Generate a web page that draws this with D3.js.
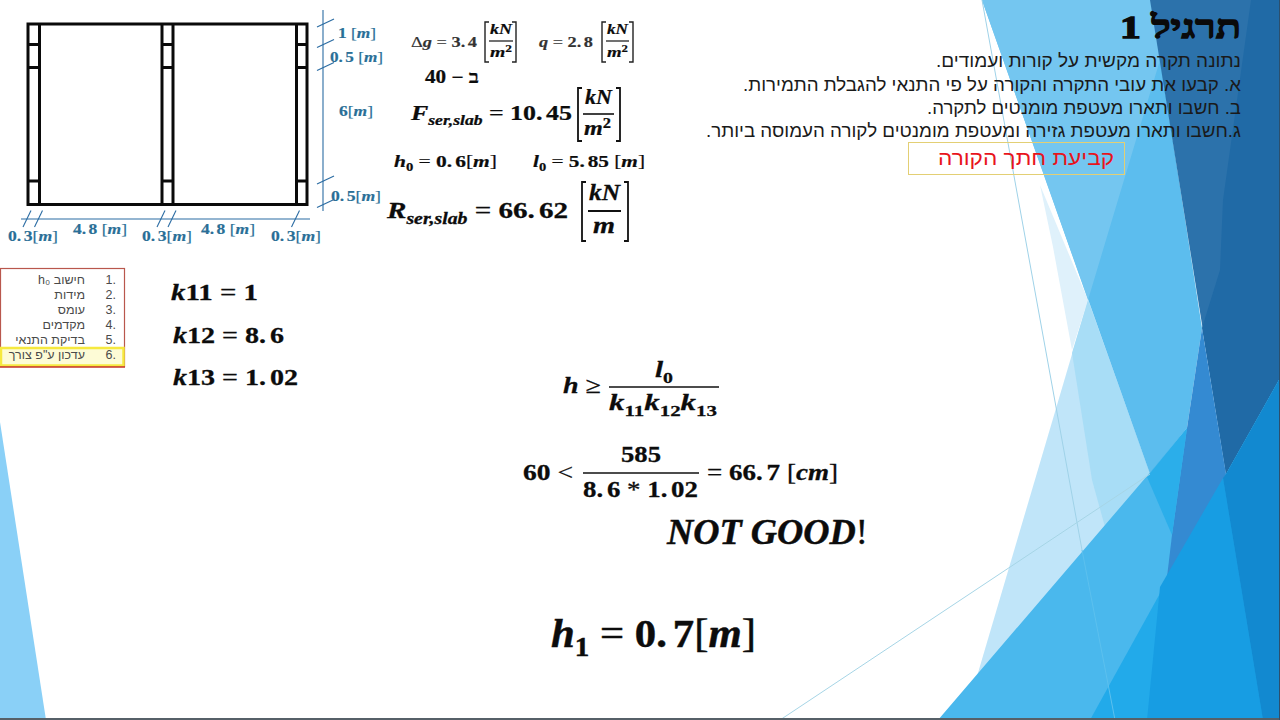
<!DOCTYPE html>
<html>
<head>
<meta charset="utf-8">
<style>
  html, body { margin: 0; padding: 0; background: #fff; overflow: hidden; }
  svg { display: block; }
  .m { font-family: "Liberation Serif", serif; font-weight: bold; }
  .he { font-family: "Liberation Sans", sans-serif; direction: rtl; text-anchor: start; }
</style>
<script src="https://cdnjs.cloudflare.com/ajax/libs/d3/7.8.5/d3.min.js"></script>
</head>
<body>
<script>
// plan dimensions in metres
const spanWidths = [0.3, 4.8, 0.3, 4.8, 0.3];
const spanHeights = [1, 0.5, 6, 0.5];
const widthLabels = ['0.3', '4.8 ', '0.3', '4.8 ', '0.3'];
const heightLabels = ['1 ', '0.5 ', '6', '0.5'];

const taskTitle = 'תרגיל 1';
const taskLines = [
  'נתונה תקרה מקשית על קורות ועמודים.',
  'א. קבעו את עובי התקרה והקורה על פי התנאי להגבלת התמירות.',
  'ב. חשבו ותארו מעטפת מומנטים לתקרה.',
  'ג.חשבו ותארו מעטפת גזירה ומעטפת מומנטים לקורה העמוסה ביותר.'
];
const sectionTitle = 'קביעת חתך הקורה';
const stepItems = ['חישוב h₀', 'מידות', 'עומס', 'מקדמים', 'בדיקת התנאי', 'עדכון ע"פ צורך'];

const kNames = ['11', '12', '13'];
const kValues = ['1', '8.6', '1.02'];

const svg = d3.select('body').append('svg').attr('width', 1280).attr('height', 720);

/** BACKGROUND **/
const poly = d3.line();
const facet = (pts, fill) => svg.append('path').attr('d', poly(pts) + 'Z').attr('fill', fill);

facet([[0, 422], [46, 720], [0, 720]], '#8ad0f7');
facet([[1040, 185], [1088, 300], [1072, 350], [1053, 247]], '#dff1fb');
facet([[1088, 300], [1150, 474], [970, 700]], '#c0e5f9');
facet([[1088, 300], [1150, 474], [1105, 527], [1092, 480], [1072, 353]], '#a8ddf6');
facet([[982, 0], [1151, 0], [1202, 328], [1187, 428], [1150, 474]], '#5cbdee');
facet([[982, 0], [1151, 0], [1160, 60], [1088, 300]], '#74c6f0');
facet([[1150, 0], [1280, 0], [1280, 378], [1226, 474]], '#2c72ab');
facet([[1251, 0], [1280, 0], [1280, 378], [1226, 474], [1202, 328], [1220, 270], [1223, 200]], '#206aa6');
// big lower wedge first, the other facets sit on top of it so no seams show
facet([[938, 720], [1147, 476], [1187, 428], [1226, 474], [1280, 600], [1280, 720]], '#4ab8ed');
facet([[1202, 328], [1226, 474], [1167, 577], [1172, 535], [1187, 428]], '#348ad2');
facet([[1147, 477], [1187, 428], [1172, 535]], '#2baeea');
facet([[1280, 378], [1280, 720], [1090, 720], [1226, 474]], '#22aaea');
facet([[1223, 478], [1263, 720], [1147, 720], [1160, 587]], '#179de3');
facet([[1280, 378], [1280, 720], [1263, 720], [1223, 478], [1226, 474]], '#1289d0');

const thin = (a, b, color) => svg.append('line')
  .attr('x1', a[0]).attr('y1', a[1]).attr('x2', b[0]).attr('y2', b[1])
  .attr('stroke', color).attr('stroke-width', 1);
thin([982, 0], [1082, 550], '#9fd2e8');
thin([1082, 550], [1115, 720], '#5cc0ee');
thin([780, 720], [1150, 474], '#a6d5e6');

svg.append('rect').attr('x', 0).attr('y', 718).attr('width', 1280).attr('height', 2).attr('fill', '#566068');
svg.append('rect').attr('x', 1279).attr('y', 0).attr('width', 1).attr('height', 720).attr('fill', '#2c4f6d');

/** TEXT HELPERS **/
// runs: [string, kind] where kind is n(umber), v(ariable), r(egular), s(ubscript), p (superscript)
function eq (x, y, size, width, runs, color = '#0c0c0c') {
  const t = svg.append('text').attr('class', 'm').attr('x', x).attr('y', y)
    .attr('font-size', size).attr('fill', color)
    .attr('stroke', color).attr('stroke-width', size * 0.012);
  if (width) t.attr('textLength', width).attr('lengthAdjust', 'spacingAndGlyphs');
  let shift = 0;
  runs.forEach(([str, kind]) => {
    const small = kind === 's' || kind === 'p';
    const off = kind === 's' ? size * 0.24 : kind === 'p' ? -size * 0.36 : 0;
    // the decimal point has a gap after it in the slide's math font
    const parts = kind === 'n' && str.includes('.') ? str.replace('.', '.|').split('|') : [str];
    parts.forEach((part, j) => {
      const sp = t.append('tspan').attr('dy', j ? 0 : off - shift)
        .attr('font-size', small ? size * 0.68 : size)
        .attr('font-style', kind === 'v' || (kind === 's' && /[a-z]/.test(str)) ? 'italic' : 'normal')
        .attr('font-weight', kind === 'r' ? 'normal' : 'bold')
        .text(part);
      if (j) sp.attr('dx', size * 0.14);
    });
    shift = off;
  });
  return t;
}

function bracket (x0, x1, y0, y1, color = '#222', w = 1.4) {
  const p = d3.path();
  p.moveTo(x0 + 4, y0); p.lineTo(x0, y0); p.lineTo(x0, y1); p.lineTo(x0 + 4, y1);
  p.moveTo(x1 - 4, y0); p.lineTo(x1, y0); p.lineTo(x1, y1); p.lineTo(x1 - 4, y1);
  svg.append('path').attr('d', p.toString()).attr('fill', 'none').attr('stroke', color).attr('stroke-width', w);
}

function rule (x0, x1, y, w = 1.4) {
  svg.append('line').attr('x1', x0).attr('x2', x1).attr('y1', y).attr('y2', y)
    .attr('stroke', '#111').attr('stroke-width', w);
}

function he (x, y, size, str, width, color = '#1a1a1a', family = null, weight = null) {
  const t = svg.append('text').attr('class', 'he').attr('x', x).attr('y', y)
    .attr('font-size', size).attr('fill', color).text(str);
  if (width) t.attr('textLength', width).attr('lengthAdjust', 'spacingAndGlyphs');
  if (family) t.style('font-family', family);
  if (weight) t.style('font-weight', weight);
  return t;
}

/** PLAN SKETCH **/
const xEdges = [0, ...d3.cumsum(spanWidths)];
const yEdges = [0, ...d3.cumsum(spanHeights)];
// the sketch is not to scale, the narrow strips are drawn wider
const sx = d3.scaleLinear().domain(xEdges).range([28, 39.5, 162, 173, 296.5, 307]);
const sy = d3.scaleLinear().domain(yEdges).range([24, 44.5, 67.5, 181, 204.5]);

const plan = svg.append('g').attr('fill', 'none').attr('stroke', '#0a0a0a').attr('stroke-width', 3);
plan.append('rect').attr('x', sx(0)).attr('y', sy(0))
  .attr('width', sx(d3.max(xEdges)) - sx(0)).attr('height', sy(d3.max(yEdges)) - sy(0));
xEdges.slice(1, -1).forEach(v => {
  plan.append('line').attr('x1', sx(v)).attr('x2', sx(v)).attr('y1', sy(0)).attr('y2', sy(d3.max(yEdges)));
});
spanWidths.forEach((w, i) => {
  if (i % 2) return;
  yEdges.slice(1, -1).forEach(v => {
    plan.append('line').attr('x1', sx(xEdges[i])).attr('x2', sx(xEdges[i + 1])).attr('y1', sy(v)).attr('y2', sy(v));
  });
});

const dimColor = '#2b6ca3';
const dims = svg.append('g').attr('stroke', dimColor).attr('stroke-width', 1.1);
dims.append('line').attr('x1', 323).attr('x2', 323).attr('y1', 10).attr('y2', 211);
dims.append('line').attr('x1', 21).attr('x2', 310).attr('y1', 219).attr('y2', 219);
yEdges.forEach(v => {
  dims.append('line').attr('x1', 317).attr('x2', 334).attr('y1', sy(v) + 3).attr('y2', sy(v) - 5);
});
xEdges.slice(0, -1).forEach(v => {
  dims.append('line').attr('x1', sx(v) - 5).attr('x2', sx(v) + 3).attr('y1', 227).attr('y2', 210.5);
});

const labelColor = '#2a6f97';
const mRuns = (v, unit = 'm') => [[v, 'n'], ['[', 'r'], [unit, 'v'], [']', 'r']];
[[338, 38, 38], [330, 62, 53], [339, 116, 34], [331, 201, 50]].forEach((p, i) => {
  eq(p[0], p[1], 15, p[2], mRuns(heightLabels[i]), labelColor);
});
[[8, 241], [73, 234], [142, 241], [201, 234], [271, 241]].forEach((p, i) => {
  eq(p[0], p[1], 15, i % 2 ? 54 : 50, mRuns(widthLabels[i]), labelColor);
});

/** LOADS **/
eq(411, 47, 14.5, 66, [['Δ', 'r'], ['g', 'v'], [' = ', 'r'], ['3.4', 'n']], '#333');
bracket(485, 516, 22, 62);
eq(490, 34, 15, 22, [['kN', 'v']]);
rule(489, 513, 41, 1.2);
eq(490, 57, 15, 22, [['m', 'v'], ['2', 'p']]);

eq(539, 47, 14.5, 54, [['q', 'v'], [' = ', 'r'], ['2.8', 'n']], '#333');
bracket(602, 633, 22, 62);
eq(607, 34, 15, 21, [['kN', 'v']]);
rule(606, 629, 41, 1.2);
eq(607, 57, 15, 21, [['m', 'v'], ['2', 'p']]);

eq(425, 83, 18, 54, [['40 − ב', 'n']]);

eq(411, 120, 20, 161, [['F', 'v'], ['ser,slab', 's'], [' = ', 'r'], ['10.45', 'n']]);
bracket(578, 620, 88, 141, '#111', 1.8);
eq(585, 104, 20, 27, [['kN', 'v']]);
rule(583, 614, 114, 1.6);
eq(584, 135, 20, 27, [['m', 'v'], ['2', 'p']]);

eq(394, 167, 17.5, 103, [['h', 'v'], ['0', 's'], [' = ', 'r'], ['0.6', 'n'], ['[', 'r'], ['m', 'v'], [']', 'r']]);
eq(533, 167, 17.5, 112, [['l', 'v'], ['0', 's'], [' = ', 'r'], ['5.85 ', 'n'], ['[', 'r'], ['m', 'v'], [']', 'r']]);

eq(387, 218, 24, 181, [['R', 'v'], ['ser,slab', 's'], [' = ', 'r'], ['66.62', 'n']]);
bracket(582, 628, 182, 241, '#111', 1.8);
eq(589, 200, 24, 31, [['kN', 'v']]);
rule(588, 621, 211, 1.8);
eq(593, 233, 24, 22, [['m', 'v']]);

/** TASK TEXT **/
he(1241, 38, 32, taskTitle, 121, '#0a0a0a', '"Liberation Serif", serif', 'bold')
  .attr('stroke', '#0a0a0a').attr('stroke-width', 1.3);
[[67, 305], [91, 498], [114, 314], [137, 535]].forEach((p, i) => {
  he(1241, p[0], 18, taskLines[i], p[1]);
});
svg.append('rect').attr('x', 908.5).attr('y', 142.5).attr('width', 216).attr('height', 32)
  .attr('fill', 'none').attr('stroke', '#e3cf74').attr('stroke-width', 1);
he(1114, 165, 20, sectionTitle, 176, '#e8141c');

/** STEPS LIST **/
svg.append('rect').attr('x', 0.5).attr('y', 268.5).attr('width', 124).attr('height', 98)
  .attr('fill', 'none').attr('stroke', '#b9574d').attr('stroke-width', 1.2);
svg.append('rect').attr('x', 1).attr('y', 348).attr('width', 122.5).attr('height', 17.5)
  .attr('fill', '#fdfbd6').attr('stroke', '#f6e93f').attr('stroke-width', 2.5);
svg.append('line').attr('x1', 0).attr('x2', 125).attr('y1', 367).attr('y2', 367)
  .attr('stroke', '#c9382c').attr('stroke-width', 1.5);
const itemY = d3.scalePoint().domain(d3.range(stepItems.length)).range([284, 359]);
stepItems.forEach((s, i) => {
  he(85, itemY(i), 12.5, s, null, '#4a4a4a');
  svg.append('text').attr('x', 116).attr('y', itemY(i)).attr('text-anchor', 'end')
    .style('font-family', '"Liberation Sans", sans-serif')
    .attr('font-size', 12.5).attr('fill', '#4a4a4a').text((i + 1) + '.');
});

/** COEFFICIENTS **/
[[171, 300, 87], [173, 343, 111], [173, 385, 125]].forEach((p, i) => {
  eq(p[0], p[1], 24, p[2], [['k', 'v'], [kNames[i] + ' ', 'n'], ['= ', 'r'], [kValues[i], 'n']]);
});

/** BEAM HEIGHT CHECK **/
eq(563, 393, 23, 38, [['h', 'v'], [' ≥', 'r']]);
eq(655, 377, 23, 18, [['l', 'v'], ['0', 's']]);
rule(609, 719, 387, 1.5);
eq(609, 410, 23, 108, [['k', 'v'], ['11', 's'], ['k', 'v'], ['12', 's'], ['k', 'v'], ['13', 's']]);

eq(523, 480, 23, 50, [['60 ', 'n'], ['<', 'r']]);
eq(621, 462, 23, 40, [['585', 'n']]);
rule(583, 699, 473, 1.5);
eq(583, 497, 23, 115, [['8.6 ', 'n'], ['* ', 'r'], ['1.02', 'n']]);
eq(707, 480, 23, 131, [['= ', 'r'], ['66.7 ', 'n'], ['[', 'r'], ['cm', 'v'], [']', 'r']]);

eq(667, 544, 35, 201, [['NOT GOOD', 'v'], ['!', 'r']]);

eq(551, 647, 39, 205, [['h', 'v'], ['1', 's'], [' = ', 'r'], ['0.7', 'n'], ['[', 'r'], ['m', 'v'], [']', 'r']]);
</script>
</body>
</html>
